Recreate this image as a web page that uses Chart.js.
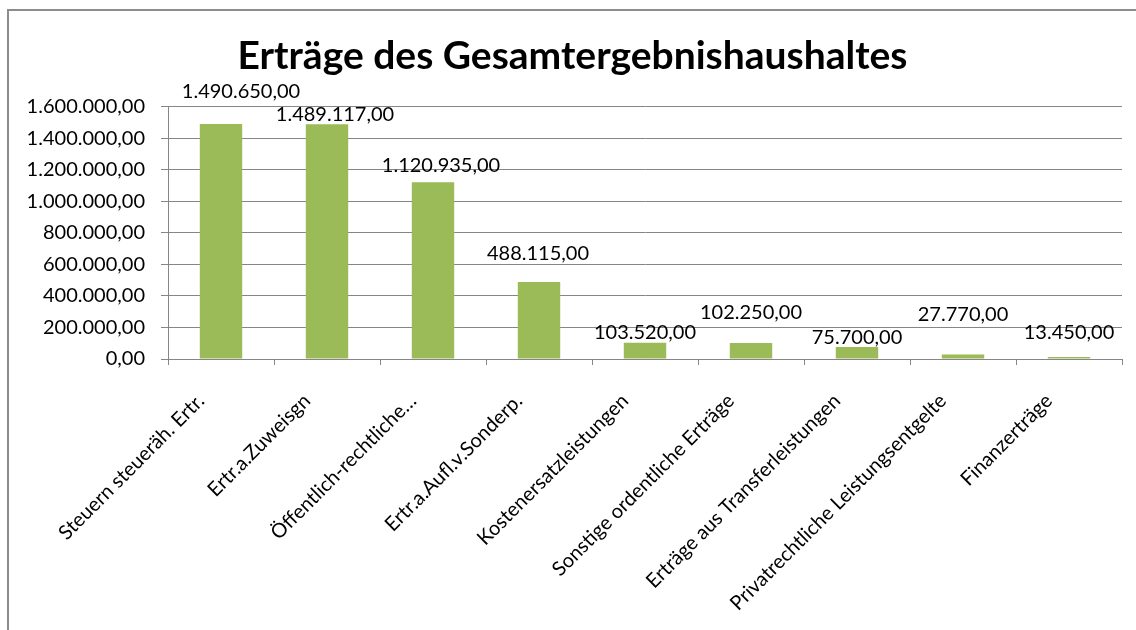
<!DOCTYPE html>
<html>
<head>
<meta charset="utf-8">
<script src="https://cdn.jsdelivr.net/npm/chart.js@4.4.1/dist/chart.umd.min.js"></script>
<style>
  html, body { margin: 0; padding: 0; background: #fff; }
  #wrap { position: relative; width: 1136px; height: 630px; overflow: hidden; }
  #frame { position: absolute; left: 7px; top: 9px; width: 1200px; height: 700px;
           border-left: 2px solid #8c8c8c; border-top: 2px solid #8c8c8c; }
  #myChart { position: absolute; left: 0; top: 0; }
</style>
</head>
<body>
<div id="wrap">
  <div id="frame"></div>
  <canvas id="myChart" width="1136" height="630"></canvas>
</div>
<script>
// chart data
const categories = [
  "Steuern steueräh. Ertr.",
  "Ertr.a.Zuweisgn",
  "Öffentlich-rechtliche…",
  "Ertr.a.Aufl.v.Sonderp.",
  "Kostenersatzleistungen",
  "Sonstige ordentliche Erträge",
  "Erträge aus Transferleistungen",
  "Privatrechtliche Leistungsentgelte",
  "Finanzerträge"
];
const values = [1490650, 1489117, 1120935, 488115, 103520, 102250, 75700, 27770, 13450];
const yTicks = [0, 200000, 400000, 600000, 800000, 1000000, 1200000, 1400000, 1600000];

// where each value label sits, relative to its bar (px)
const labelLift = [32, 10, 17, 29, 10, 30, 10, 40, 24];
const labelShift = [20, 8, 8, -1, 0, 0, 0, 0, 0];

const FONT = "Lato, 'Open Sans', sans-serif";
const GREEN = "#9bbb59";
const GRID = "#868686";

// 1490650 -> "1.490.650,00"
function fmtDE(n) {
  let parts = n.toFixed(2).split(".");
  let intPart = parts[0].replace(/\B(?=(\d{3})+(?!\d))/g, ".");
  return intPart + "," + parts[1];
}

const valueLabels = {
  id: "valueLabels",
  afterDatasetsDraw(chart) {
    const c = chart.ctx;
    const meta = chart.getDatasetMeta(0);
    c.save();
    c.font = "20px " + FONT;
    c.fillStyle = "#000";
    c.textAlign = "center";
    c.textBaseline = "middle";
    meta.data.forEach((bar, i) => {
      c.fillText(fmtDE(values[i]), bar.x + labelShift[i], bar.y - labelLift[i]);
    });
    c.restore();
  }
};

const ctx = document.getElementById("myChart").getContext("2d");
var chart = new Chart(ctx, {
  type: "bar",
  data: {
    labels: categories,
    datasets: [{
      data: values,
      backgroundColor: GREEN,
      borderWidth: 0,
      categoryPercentage: 1,
      barPercentage: 0.4
    }]
  },
  options: {
    responsive: false,
    animation: false,
    layout: { padding: { left: 23, right: 14, top: 0, bottom: 0 } },
    plugins: {
      legend: { display: false },
      tooltip: { enabled: false },
      title: {
        display: true,
        text: "Erträge des Gesamtergebnishaushaltes",
        color: "#000",
        font: { family: FONT, size: 39, weight: "bold", lineHeight: 1.2 },
        padding: { top: 33, bottom: 27 }
      }
    },
    scales: {
      x: {
        grid: { display: true, drawOnChartArea: false, drawTicks: true, tickLength: 6, color: GRID, offset: true },
        border: { display: true, color: GRID, width: 1 },
        ticks: {
          autoSkip: false,
          maxRotation: 45,
          minRotation: 45,
          color: "#000",
          padding: 24,
          labelOffset: -20,
          font: { family: FONT, size: 20 }
        },
        afterFit(scale) { scale.height = 271; }
      },
      y: {
        min: 0,
        max: 1600000,
        afterBuildTicks(scale) { scale.ticks = yTicks.map(v => ({ value: v })); },
        grid: { color: GRID, lineWidth: 1, tickLength: 7 },
        border: { display: true, color: GRID, width: 1 },
        ticks: {
          color: "#000",
          padding: 16,
          font: { family: FONT, size: 20 },
          callback: v => fmtDE(v)
        },
        afterFit(scale) { scale.width = 145; }
      }
    }
  },
  plugins: [valueLabels]
});
</script>
</body>
</html>
